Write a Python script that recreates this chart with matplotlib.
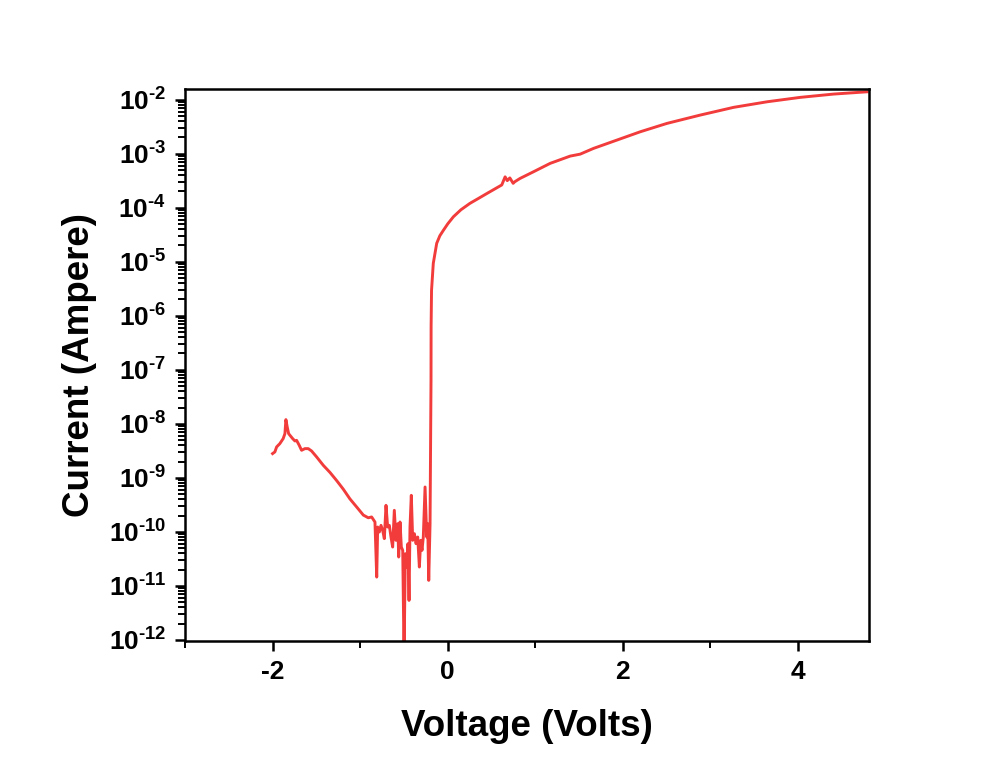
import matplotlib
matplotlib.use("Agg")
import matplotlib.pyplot as plt
from matplotlib.ticker import FixedLocator, NullFormatter, MultipleLocator
import numpy as np

plt.rcParams['font.family'] = ['Liberation Sans', 'DejaVu Sans']
plt.rcParams['font.weight'] = 'bold'
plt.rcParams['mathtext.fontset'] = 'custom'
plt.rcParams['mathtext.rm'] = 'Liberation Sans:bold'
plt.rcParams['mathtext.it'] = 'Liberation Sans:bold'
plt.rcParams['mathtext.bf'] = 'Liberation Sans:bold'

# Voltage (V) and log10 of current (A)
voltage = [
    -2.000, -1.974, -1.954, -1.917, -1.879, -1.859, -1.848, -1.833, -1.817, -1.802,
    -1.771, -1.745, -1.726, -1.696, -1.669, -1.631, -1.593, -1.555, -1.497, -1.421,
    -1.345, -1.269, -1.193, -1.117, -1.040, -0.964, -0.907, -0.869, -0.831, -0.811,
    -0.800, -0.781, -0.762, -0.743, -0.724, -0.705, -0.686, -0.667, -0.648, -0.629,
    -0.610, -0.591, -0.571, -0.560, -0.545, -0.530, -0.514, -0.499, -0.484, -0.469,
    -0.454, -0.442, -0.431, -0.416, -0.400, -0.381, -0.362, -0.343, -0.324, -0.309,
    -0.294, -0.279, -0.259, -0.240, -0.229, -0.217, -0.202, -0.191, -0.190, -0.185,
    -0.165, -0.126, -0.090, -0.050, 0.000, 0.064, 0.150, 0.254, 0.350, 0.445,
    0.617, 0.655, 0.680, 0.709, 0.747, 0.766, 0.825, 0.978, 1.169, 1.398,
    1.512, 1.664, 1.931, 2.198, 2.503, 2.883, 3.264, 3.646, 4.026, 4.407,
    4.789,
]
log_current = [
    -8.552, -8.521, -8.429, -8.367, -8.274, -8.182, -7.923, -8.059, -8.182, -8.213,
    -8.274, -8.318, -8.306, -8.398, -8.491, -8.460, -8.460, -8.503, -8.614, -8.769,
    -8.900, -9.050, -9.210, -9.390, -9.540, -9.690, -9.740, -9.725, -9.818, -10.837,
    -9.911, -10.003, -9.880, -9.972, -10.126, -9.509, -9.911, -9.880, -10.096, -10.281,
    -9.602, -10.157, -9.849, -10.466, -9.818, -10.281, -10.343, -12.300, -10.404, -10.651,
    -10.219, -11.269, -9.911, -9.324, -10.157, -10.034, -10.219, -10.096, -10.651, -10.157,
    -10.343, -10.096, -9.170, -10.096, -9.849, -10.898, -9.849, -7.194, -6.200, -5.530,
    -5.030, -4.660, -4.520, -4.420, -4.300, -4.170, -4.040, -3.920, -3.830, -3.740,
    -3.580, -3.430, -3.500, -3.450, -3.550, -3.520, -3.460, -3.337, -3.181, -3.046,
    -3.010, -2.904, -2.750, -2.596, -2.441, -2.287, -2.144, -2.041, -1.959, -1.898,
    -1.856,
]

x_major = [-2, 0, 2, 4]
y_major_exp = list(range(-12, -1))

fig = plt.figure(figsize=(9.92, 7.61), dpi=100)
ax = fig.add_axes([0.1865, 0.1577, 0.876 - 0.1865, 0.883 - 0.1577])

current = np.power(10.0, np.array(log_current))
ax.plot(voltage, current, color='#f23c3c', lw=2.1, solid_joinstyle='round')

ax.set_yscale('log')
ax.set_xlim(-3, 4.81)
ax.set_ylim(10**-12.02, 10**-1.805)

ax.xaxis.set_major_locator(FixedLocator(x_major))
ax.xaxis.set_minor_locator(MultipleLocator(1))
ax.set_xticklabels([str(v) for v in x_major])

ax.yaxis.set_major_locator(FixedLocator([10.0**e for e in y_major_exp]))
minor_y = [m * 10.0**e for e in range(-13, -1) for m in range(2, 10)]
ax.yaxis.set_minor_locator(FixedLocator(minor_y))
ax.yaxis.set_minor_formatter(NullFormatter())
ax.set_yticklabels([r'$\mathregular{10^{\text{-}%d}}$' % (-e) for e in y_major_exp])

for s in ax.spines.values():
    s.set_linewidth(1.8)

ax.tick_params(axis='both', which='major', direction='out', length=7.5, width=1.8,
               labelsize=19, pad=6, top=False, right=False)
ax.tick_params(axis='both', which='minor', direction='out', length=5, width=1.4,
               top=False, right=False)
for lab in ax.get_xticklabels() + ax.get_yticklabels():
    lab.set_fontweight('bold')

ax.set_xlabel('Voltage (Volts)', fontsize=26.5, fontweight='bold', labelpad=18)
ax.set_ylabel('Current (Ampere)', fontsize=26.5, fontweight='bold', labelpad=8)

fig.savefig('out.png', dpi=100)
